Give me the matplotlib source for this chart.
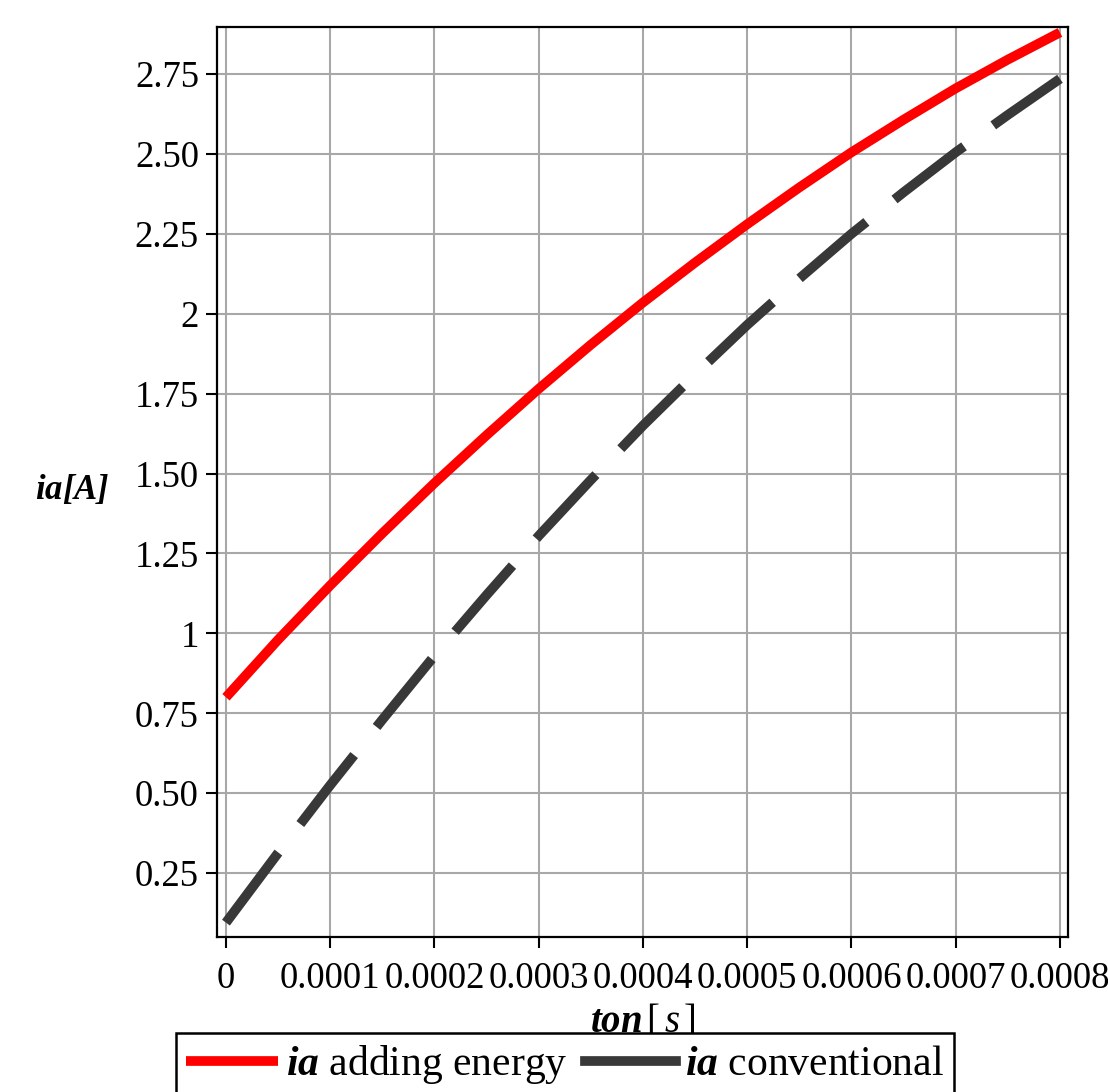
import matplotlib
matplotlib.use("Agg")
import matplotlib.pyplot as plt

# ---- data ----
ton = [0.0, 0.00005, 0.0001, 0.00015, 0.0002, 0.00025, 0.0003, 0.00035, 0.0004,
       0.00045, 0.0005, 0.00055, 0.0006, 0.00065, 0.0007, 0.00075, 0.0008]
ia_adding = [0.80, 0.98, 1.15, 1.313, 1.47, 1.62, 1.765, 1.903, 2.035,
             2.16, 2.28, 2.395, 2.505, 2.607, 2.705, 2.795, 2.88]
ia_conv = [0.095, 0.313, 0.525, 0.73, 0.93, 1.12, 1.305, 1.48, 1.65,
           1.81, 1.965, 2.11, 2.25, 2.38, 2.505, 2.622, 2.735]
xticks = [0, 0.0001, 0.0002, 0.0003, 0.0004, 0.0005, 0.0006, 0.0007, 0.0008]
xticklabels = ["0", "0.0001", "0.0002", "0.0003", "0.0004", "0.0005", "0.0006", "0.0007", "0.0008"]
yticks = [0.25, 0.5, 0.75, 1.0, 1.25, 1.5, 1.75, 2.0, 2.25, 2.5, 2.75]
yticklabels = ["0.25", "0.50", "0.75", "1", "1.25", "1.50", "1.75", "2", "2.25", "2.50", "2.75"]
series_labels = [r"$\mathbf{ia}$ adding energy", r"$\mathbf{ia}$ conventional"]

plt.rcParams["font.family"] = ["Liberation Serif", "DejaVu Serif"]
plt.rcParams["mathtext.fontset"] = "custom"
plt.rcParams["mathtext.rm"] = "Liberation Serif"
plt.rcParams["mathtext.it"] = "Liberation Serif:italic"
plt.rcParams["mathtext.bf"] = "Liberation Serif:bold:italic"

fig = plt.figure(figsize=(11.08, 10.92), dpi=100)
ax = fig.add_axes([217 / 1108, 1 - 937 / 1092, (1068 - 217) / 1108, (937 - 27) / 1092])

ax.plot(ton, ia_adding, color="#ff0000", lw=7, solid_capstyle="butt",
        solid_joinstyle="round", label=series_labels[0], zorder=3)
ax.plot(ton, ia_conv, color="#383838", lw=7, linestyle=(0, (9.0, 3.7)),
        dash_capstyle="butt", label=series_labels[1], zorder=3)

ax.set_xlim(-0.0000086, 0.0008077)
ax.set_ylim(0.05, 2.897)
ax.set_xticks(xticks)
ax.set_xticklabels(xticklabels)
ax.set_yticks(yticks)
ax.set_yticklabels(yticklabels)
ax.grid(True, color="#a8a8a8", lw=1.5)
ax.set_axisbelow(True)
ax.tick_params(axis="both", direction="out", length=8, width=1.5, colors="black",
               labelsize=26.5, pad=5)
ax.tick_params(axis="x", pad=10)
for sp in ax.spines.values():
    sp.set_linewidth(1.6)
    sp.set_color("black")

ax.set_xlabel(r"$\mathbf{ton}\,[\,s\,]$", fontsize=28, labelpad=5)
ax.set_ylabel(r"$\mathbf{ia[A]}$", fontsize=25, rotation=0, va="center")
ax.yaxis.set_label_coords(-0.17, 0.491)

leg = fig.legend(loc="upper center", bbox_to_anchor=(565 / 1108, 1 - 1033 / 1092),
                 ncol=2, fontsize=30, frameon=True, fancybox=False, framealpha=1,
                 edgecolor="black", handlelength=2.2, handletextpad=0.2,
                 columnspacing=0.4, borderpad=0.25, borderaxespad=0)
leg.get_frame().set_linewidth(1.8)
for h in leg.get_lines():
    h.set_linestyle("-")
    h.set_linewidth(7)

fig.savefig("out.png", dpi=100)
